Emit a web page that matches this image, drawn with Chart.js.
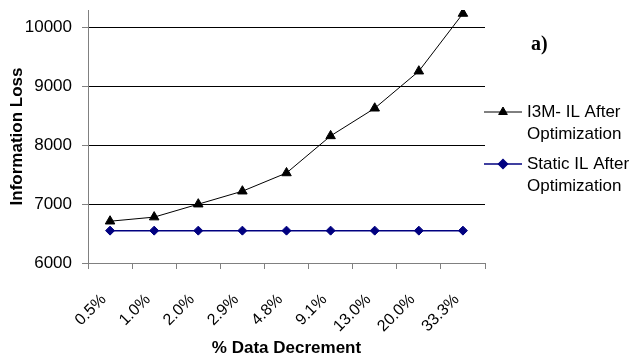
<!DOCTYPE html>
<html>
<head>
<meta charset="utf-8">
<script src="https://cdn.jsdelivr.net/npm/chart.js@4/dist/chart.umd.min.js"></script>
<style>
  html, body { margin: 0; padding: 0; background: #fff; }
  #wrap { width: 637px; height: 360px; position: relative; }
</style>
</head>
<body>
<div id="wrap"><canvas id="chart"></canvas></div>
<script>
// data
const categories = ['0.5%', '1.0%', '2.0%', '2.9%', '4.8%', '9.1%', '13.0%', '20.0%', '33.3%'];
const i3mValues = [6710, 6780, 7000, 7220, 7530, 8160, 8630, 9260, 10240];
const staticValues = [6550, 6550, 6550, 6550, 6550, 6550, 6550, 6550, 6550];
const yTicks = [6000, 7000, 8000, 9000, 10000];
const seriesLabels = [['I3M- IL After', 'Optimization'], ['Static IL After', 'Optimization']];

const FONT = 'Arial, "Liberation Sans", sans-serif';
const NAVY = '#000080';
const AXIS_GREY = '#808080';

// legend + "a)" drawn by hand, Excel-style
const sideNotes = {
  id: 'sideNotes',
  afterDraw(chart) {
    const ctx = chart.ctx;
    ctx.save();
    ctx.fillStyle = '#000';
    ctx.font = 'bold 20px "Liberation Serif", "Times New Roman", serif';
    ctx.textBaseline = 'middle';
    ctx.textAlign = 'left';
    ctx.fillText('a)', 531, 45);

    const entries = [
      { color: '#000', style: 'triangle', r: 5, y: 112 },
      { color: NAVY, style: 'rectRot', r: 4.5, y: 164 },
    ];
    entries.forEach((e, i) => {
      ctx.strokeStyle = e.color;
      ctx.lineWidth = i === 0 ? 1 : 1.5;
      ctx.beginPath();
      ctx.moveTo(484, e.y);
      ctx.lineTo(522, e.y);
      ctx.stroke();
      ctx.fillStyle = e.color;
      Chart.helpers.drawPoint(ctx, { pointStyle: e.style, radius: e.r, rotation: 0, borderWidth: 1 }, 503, e.y);
      ctx.fillStyle = '#000';
      ctx.font = '17px ' + FONT;
      seriesLabels[i].forEach((t, k) => ctx.fillText(t, 527, e.y + k * 22));
    });
    ctx.restore();
  },
};

new Chart(document.getElementById('chart'), {
  type: 'line',
  data: {
    labels: categories,
    datasets: [
      {
        label: 'I3M- IL After Optimization',
        data: i3mValues,
        borderColor: '#000',
        backgroundColor: '#000',
        borderWidth: 1,
        pointStyle: 'triangle',
        pointRadius: 5.5,
        pointBorderWidth: 1,
        tension: 0,
      },
      {
        label: 'Static IL After Optimization',
        data: staticValues,
        borderColor: NAVY,
        backgroundColor: NAVY,
        borderWidth: 1.5,
        pointStyle: 'rectRot',
        pointRadius: 4.5,
        pointBorderWidth: 1,
        tension: 0,
      },
    ],
  },
  options: {
    responsive: true,
    maintainAspectRatio: false,
    animation: false,
    devicePixelRatio: 1,
    layout: { padding: { top: 10, right: 152, left: 0, bottom: 0 } },
    plugins: {
      legend: { display: false },
      tooltip: { enabled: false },
    },
    scales: {
      x: {
        offset: true,
        afterFit(scale) { scale.height = 97; },
        grid: {
          offset: true,
          drawOnChartArea: false,
          tickLength: 6,
          tickColor: AXIS_GREY,
        },
        border: { color: AXIS_GREY, width: 1 },
        ticks: {
          color: '#000',
          font: { size: 16, family: FONT },
          minRotation: 45,
          maxRotation: 45,
          padding: 15,
          autoSkip: false,
          // trailing spaces nudge the rotated label left of the tick, like Excel
          callback(value) { return this.getLabelForValue(value) + '  '; },
        },
        title: {
          display: true,
          text: '% Data Decrement',
          color: '#000',
          font: { size: 17, weight: 'bold', family: FONT },
          padding: { top: 4, bottom: 1 },
        },
      },
      y: {
        min: 6000,
        max: 10300,
        afterFit(scale) {
          scale.width = 88;
          scale.paddingTop = 0;
          scale.paddingBottom = 0;
        },
        afterBuildTicks(scale) { scale.ticks = yTicks.map(v => ({ value: v })); },
        grid: {
          color: '#000',
          lineWidth: 1,
          tickLength: 6,
          tickColor: AXIS_GREY,
        },
        border: { color: AXIS_GREY, width: 1 },
        ticks: {
          color: '#000',
          font: { size: 17, family: FONT },
          padding: 10,
          callback: v => String(v),
        },
        title: {
          display: true,
          text: 'Information Loss',
          color: '#000',
          font: { size: 17, weight: 'bold', family: FONT },
          padding: { top: 7, bottom: 0 },
        },
      },
    },
  },
  plugins: [sideNotes],
});
</script>
</body>
</html>
